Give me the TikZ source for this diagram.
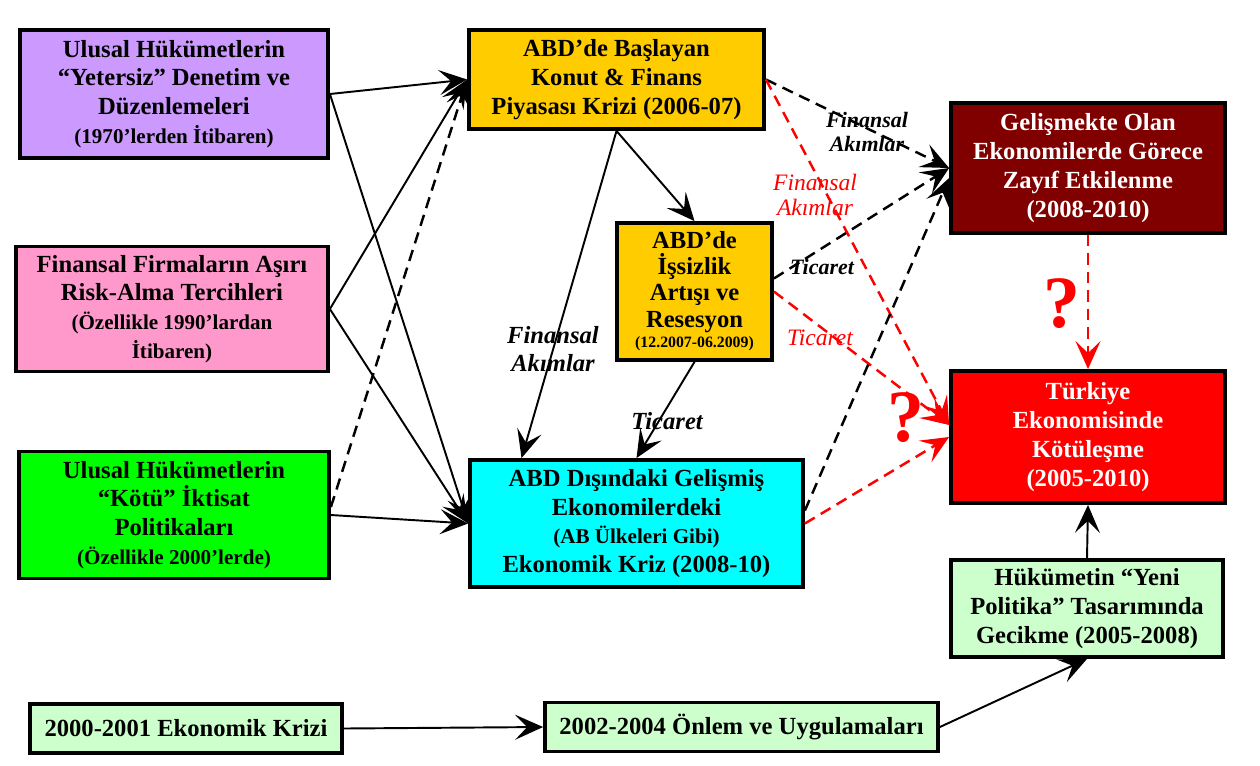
\documentclass[tikz,border=0pt]{standalone}
\usepackage{fontspec}
\setmainfont{Liberation Serif}
\usetikzlibrary{arrows.meta,calc}
\definecolor{mor}{HTML}{CC99FF}
\definecolor{pembe}{HTML}{FF99CC}
\definecolor{yesil}{HTML}{00FF00}
\definecolor{turuncu}{HTML}{FFCC00}
\definecolor{camgobegi}{HTML}{00FFFF}
\definecolor{bordo}{HTML}{800000}
\definecolor{acikyesil}{HTML}{CCFFCC}
\tikzset{
	kutu/.style={draw, line width=2.2pt, align=center, inner sep=0pt, font=\bfseries\fontsize{14}{16.4}\selectfont},
	ok/.style={-{Stealth[length=5.6mm,width=5mm,inset=2.4mm]}, line width=1.1pt},
	kesik/.style={ok, line width=1.4pt, dash pattern=on 6.5pt off 4pt},
	etiket/.style={align=center, inner sep=0pt, font=\bfseries\itshape\fontsize{14}{15.9}\selectfont},
	kucuketiket/.style={align=center, inner sep=0pt, font=\bfseries\itshape\fontsize{12.5}{14.2}\selectfont},
	kirmizietiket/.style={align=center, inner sep=0pt, text=red, font=\itshape\fontsize{13.4}{13.8}\selectfont},
	soru/.style={inner sep=0pt, text=red, font=\bfseries\fontsize{42}{42}\selectfont}
}
\newcommand\kucuk[1]{{\fontsize{12}{16.4}\selectfont #1}}

\begin{document}
\begin{tikzpicture}[x=0.02cm, y=-0.02cm]
			%%%%% START %%%%%
			\useasboundingbox (0,0) rectangle (1260,765);
			
			\node[kutu, fill=mor, minimum width=6.16cm, minimum height=2.56cm] (denetim) at (174,94) {Ulusal Hükümetlerin\\“Yetersiz” Denetim ve\\Düzenlemeleri\\\kucuk{(1970’lerden İtibaren)}};
			\node[kutu, fill=pembe, minimum width=6.24cm, minimum height=2.5cm] (riskalma) at (172,309) {Finansal Firmaların Aşırı\\Risk-Alma Tercihleri\\\kucuk{(Özellikle 1990’lardan}\\\kucuk{İtibaren)}};
			\node[kutu, fill=yesil, minimum width=6.2cm, minimum height=2.54cm] (iktisat) at (174,515) {Ulusal Hükümetlerin\\“Kötü” İktisat\\Politikaları\\\kucuk{(Özellikle 2000’lerde)}};
			
			\node[kutu, fill=turuncu, minimum width=5.9cm, minimum height=1.98cm] (konut) at (616.5,79.5) {ABD’de Başlayan\\Konut \& Finans\\Piyasası Krizi (2006-07)};
			\node[kutu, fill=turuncu, minimum width=3.1cm, minimum height=2.74cm, font=\bfseries\fontsize{14}{14.8}\selectfont] (issizlik) at (694.5,291.5) {ABD’de\\İşsizlik\\Artışı ve\\Resesyon\\[-3pt]{\fontsize{9}{11}\selectfont (12.2007-06.2009)}};
			\node[kutu, fill=camgobegi, minimum width=6.66cm, minimum height=2.54cm] (abdDisi) at (636.5,523.5) {ABD Dışındaki Gelişmiş\\Ekonomilerdeki\\\kucuk{(AB Ülkeleri Gibi)}\\Ekonomik Kriz (2008-10)};
			
			\node[kutu, fill=bordo, text=white, minimum width=5.48cm, minimum height=2.6cm] (gelismekte) at (1088,168) {Gelişmekte Olan\\Ekonomilerde Görece\\Zayıf Etkilenme\\(2008-2010)};
			\node[kutu, fill=red, text=white, minimum width=5.48cm, minimum height=2.64cm] (turkiye) at (1088,437) {Türkiye\\Ekonomisinde\\Kötüleşme\\(2005-2010)};
			\node[kutu, fill=acikyesil, minimum width=5.44cm, minimum height=1.94cm] (gecikme) at (1087,608.5) {Hükümetin “Yeni\\Politika” Tasarımında\\Gecikme (2005-2008)};
			
			\node[kutu, fill=acikyesil, minimum width=6.24cm, minimum height=0.98cm] (kriz2001) at (186,728.5) {2000-2001 Ekonomik Krizi};
			\node[kutu, fill=acikyesil, minimum width=7.86cm, minimum height=0.98cm] (onlem) at (741.5,727) {2002-2004 Önlem ve Uygulamaları};
			
			% sol kutulardan ABD krizlerine
			\draw[ok] (denetim.east) -- (konut.west);
			\draw[ok] (denetim.east) -- (abdDisi.west);
			\draw[ok] (riskalma.east) -- (konut.west);
			\draw[ok] (riskalma.east) -- (abdDisi.west);
			\draw[kesik] ([yshift=1.6mm]iktisat.east) -- (konut.west);
			\draw[ok] (iktisat.east) -- (abdDisi.west);
			
			\draw[ok] (konut.south) -- (issizlik.north);
			\draw[ok] (konut.south) -- ([xshift=-2.3cm]abdDisi.north);
			\draw[ok] (issizlik.south) -- (abdDisi.north);
			
			% sag tarafa kesikli oklar
			\draw[kesik] (konut.east) -- (gelismekte.west);
			\draw[kesik, red] (konut.east) -- ([yshift=2.4mm]turkiye.west);
			\draw[kesik] ([yshift=2.6mm]issizlik.east) -- (gelismekte.west);
			\draw[kesik, red] (issizlik.east) -- ([yshift=2.4mm]turkiye.west);
			\draw[kesik] ([yshift=2.6mm]abdDisi.east) -- ([yshift=-2mm]gelismekte.west);
			\draw[kesik, red] (abdDisi.east) -- (turkiye.west);
			\draw[kesik, red] (gelismekte.south) -- (turkiye.north);
			
			\draw[ok] (gecikme.north) -- (turkiye.south);
			\draw[ok] (kriz2001.east) -- (onlem.west);
			\draw[ok] (onlem.east) -- (gecikme.south);
			
			\node[etiket] (finAkim1) at (553,349) {Finansal\\Akımlar};
			\node[etiket] (ticaret1) at (667,421) {Ticaret};
			\node[kucuketiket] (finAkim2) at (867,132) {Finansal\\Akımlar};
			\node[kirmizietiket] (finAkim3) at (815,195) {Finansal\\Akımlar};
			\node[kucuketiket] (ticaret2) at (822,267) {Ticaret};
			\node[kirmizietiket] (ticaret3) at (820,338) {Ticaret};
			
			\node[soru] (soru1) at (1062,304) {?};
			\node[soru] (soru2) at (906,418) {?};
			
			%%%%% END %%%%%
\end{tikzpicture}
\end{document}
